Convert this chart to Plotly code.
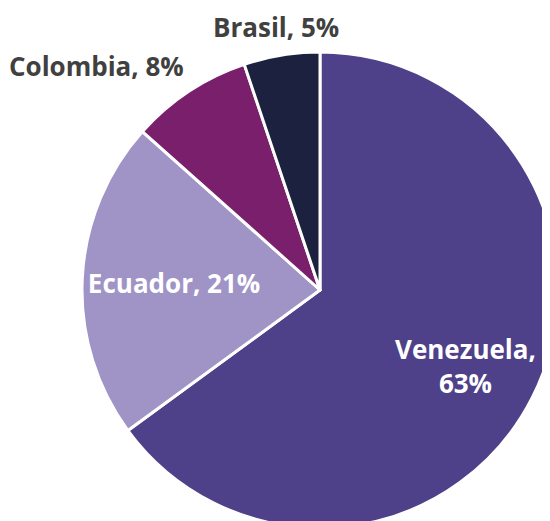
import plotly.graph_objects as go

# shares of origin country
countries = ["Venezuela", "Ecuador", "Colombia", "Brasil"]
shares = [63, 21, 8, 5]
colors = ["#4E4189", "#A093C6", "#7A1F6B", "#1C2140"]

labels = []
for c, s in zip(countries, shares):
    if c == "Venezuela":
        labels.append(c + ",<br>" + str(s) + "%")
    else:
        labels.append(c + ", " + str(s) + "%")

# page body keeps its 8px margin, so everything sits 8px up/left of the
# reference; the pie runs off the right and bottom edges like the original
W, H = 550, 521
cx, cy, r = 312, 282, 238

# only Ecuador is labelled by the pie itself, the rest are annotations
textpos = ["none", "inside", "none", "none"]

fig = go.Figure(go.Pie(
    labels=countries,
    values=shares,
    text=labels,
    textinfo="text",
    textposition=textpos,
    sort=False,
    direction="clockwise",
    rotation=0,
    marker=dict(colors=colors, line=dict(color="white", width=3)),
    insidetextfont=dict(family="Open Sans", size=26, color="white", weight="bold"),
    insidetextorientation="horizontal",
    hoverinfo="label+value",
    domain=dict(x=[(cx - r) / W, (cx + r) / W], y=[(H - cy - r) / H, (H - cy + r) / H]),
))

label_pos = {
    "Venezuela": (457, 358, "center", "white"),
    "Colombia": (178, 58, "right", "#404040"),
    "Brasil": (268, 19, "center", "#404040"),
}
for c, t in zip(countries, labels):
    if c in label_pos:
        x, y, anchor, col = label_pos[c]
        fig.add_annotation(
            x=x / W, y=1 - y / H, xref="paper", yref="paper",
            text=t, showarrow=False, xanchor=anchor, yanchor="middle",
            font=dict(family="Open Sans", size=26, color=col, weight="bold"),
        )

fig.update_layout(
    width=W, height=H,
    margin=dict(l=0, r=0, t=0, b=0),
    showlegend=False,
    paper_bgcolor="white",
    font=dict(family="Open Sans"),
)

fig.write_html("out.html")
